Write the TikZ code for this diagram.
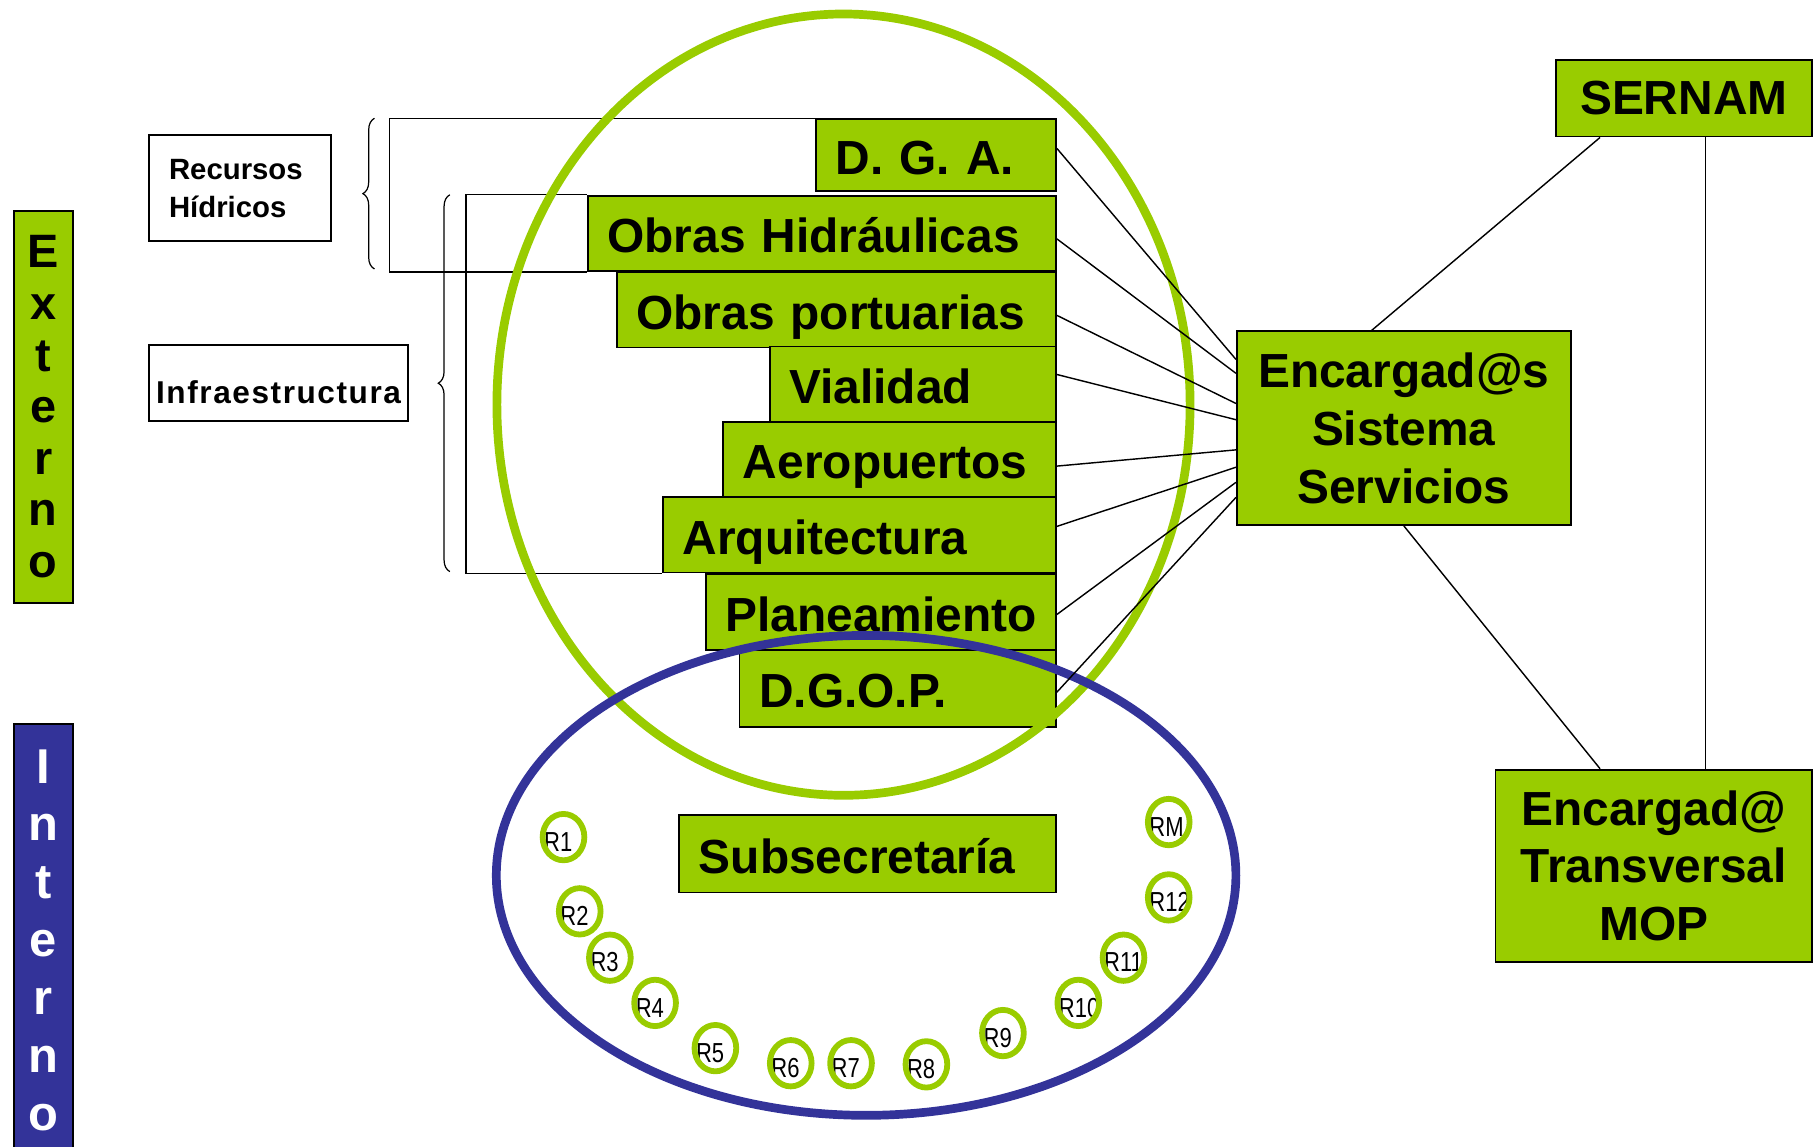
\documentclass[tikz,border=0pt]{standalone}
\usepackage{fontspec}
\setmainfont{Liberation Sans}
\newfontfamily\narrowfont{Liberation Sans}[FakeStretch=0.8]
\usetikzlibrary{decorations.pathreplacing}

\definecolor{mopgreen}{HTML}{99CC00}
\definecolor{mopblue}{HTML}{333399}

\newcommand{\boxfont}{\fontsize{23.5}{28.35}\selectfont\bfseries}
\newcommand{\groupfont}{\fontsize{14.4}{18.7}\selectfont\bfseries}
\newcommand{\ringfont}{\fontsize{13.5}{14}\selectfont\narrowfont}

\tikzset{
  mop/.style={draw, fill=mopgreen, line width=0.9pt, anchor=north west},
  unit/.style={mop, inner xsep=0.34cm, align=left, font=\boxfont, minimum height=1.3cm, text height=23pt, text depth=4pt},
  hub/.style={mop, align=center, font=\boxfont},
  group/.style={draw, line width=0.9pt, anchor=north west, font=\groupfont},
  side/.style={draw, line width=0.9pt, anchor=north west, minimum width=1.02cm, align=center},
  link/.style={line width=0.7pt},
  ring/.style={draw=mopgreen, line width=0.1cm},
  rlab/.style={font=\ringfont, inner sep=0pt, anchor=west},
  curly/.style={decorate, decoration={brace, amplitude=0.2cm}, line width=0.6pt},
}

\begin{document}
\begin{tikzpicture}[x=0.02cm, y=-0.02cm]
    \useasboundingbox (0,0) rectangle (1568,989);

    \node[side, fill=mopgreen, minimum height=6.76cm, font={\fontsize{23}{25.3}\selectfont\bfseries}] (ext) at (11,181) {E\\x\\t\\e\\r\\n\\o};
    \node[side, fill=mopblue, text=white, minimum height=7.44cm, font={\fontsize{24}{28.4}\selectfont\bfseries}] (int) at (11,624) {I\\n\\t\\e\\r\\n\\o};

    \node[group, text width=2.46cm, inner xsep=0.34cm, minimum height=1.82cm, align=left] (rh) at (128,116) {Recursos\\Hídricos};
    \node[group, minimum width=4.44cm, minimum height=1.3cm, text height=20pt, text depth=0pt, align=center, font={\fontsize{15.5}{18}\selectfont\bfseries}] (inf) at (128,297) {\addfontfeature{LetterSpace=5}Infraestructura};

    \node[unit, text width=3.46cm, minimum height=1.24cm] (dga) at (703,102) {D. G. A.};
    \node[unit, text width=7.40cm] (oh) at (506,168) {Obras Hidráulicas};
    \node[unit, text width=6.90cm] (op) at (531,234) {Obras portuarias};
    \node[unit, text width=4.26cm] (vial) at (663,298) {Vialidad};
    \node[unit, text width=5.06cm] (aero) at (623,363) {Aeropuertos};
    \node[unit, text width=6.10cm] (arq) at (571,428) {Arquitectura};
    \node[unit, text width=5.36cm, minimum height=1.32cm] (plan) at (608,494) {Planeamiento};
    \node[unit, text width=4.78cm, minimum height=1.32cm] (dgop) at (637,560) {D.G.O.P.};
    \node[unit, text width=5.82cm, minimum height=1.34cm] (sub) at (585,702) {Subsecretaría};

    \node[hub, minimum width=5.76cm, minimum height=3.34cm] (ess) at (1066,285) {Encargad@s\\Sistema\\Servicios};
    \node[hub, minimum width=4.42cm, minimum height=1.32cm] (sernam) at (1341,51) {SERNAM};
    \node[hub, minimum width=5.46cm, minimum height=3.32cm] (trans) at (1289,663) {Encargad@\\Transversal\\MOP};

    \draw[link] (dga.north west) -- ++(-367,0) |- (oh.south west);
    \draw[link] (oh.north west) -- ++(-104,0) |- (arq.south west);
    \draw[curly] (323,232) -- (323,102);
    \draw[curly] (388,493) -- (388,168);

    \draw[draw=mopgreen, line width=0.15cm] (727.5,349) ellipse [x radius=5.98cm, y radius=6.74cm];
    \draw[draw=mopblue, line width=0.15cm] (747,755) ellipse [x radius=6.38cm, y radius=4.14cm];

    \foreach \u/\s/\e in {dga/128/310, oh/206/322, op/272/348, vial/323/362, aero/402/388, arq/454/403, plan/530/416, dgop/597/429}
        \draw[link] (\u.east |- 0,\s) -- (ess.west |- 0,\e);

    \draw[link] (ess.north -| 1183,0) -- (sernam.south -| 1380,0);
    \draw[link] (sernam.south -| 1471,0) -- (trans.north -| 1471,0);
    \draw[link] (ess.south) -- (trans.north -| 1380,0);

    \foreach \n/\x/\y in {1/486/722, 2/500/786, 3/526/826, 4/565/865, 5/617/904, 6/682/917, 7/734/917,
                          8/799/918, 9/865/891, 10/930/865, 11/969/826, 12/1008/774, M/1008/709} {
        \node[rlab] (r\n) at (\x-17,\y+4) {R\n};
        \draw[ring] (\x,\y) ellipse [x radius=0.36cm, y radius=0.4cm];
    }
\end{tikzpicture}
\end{document}
